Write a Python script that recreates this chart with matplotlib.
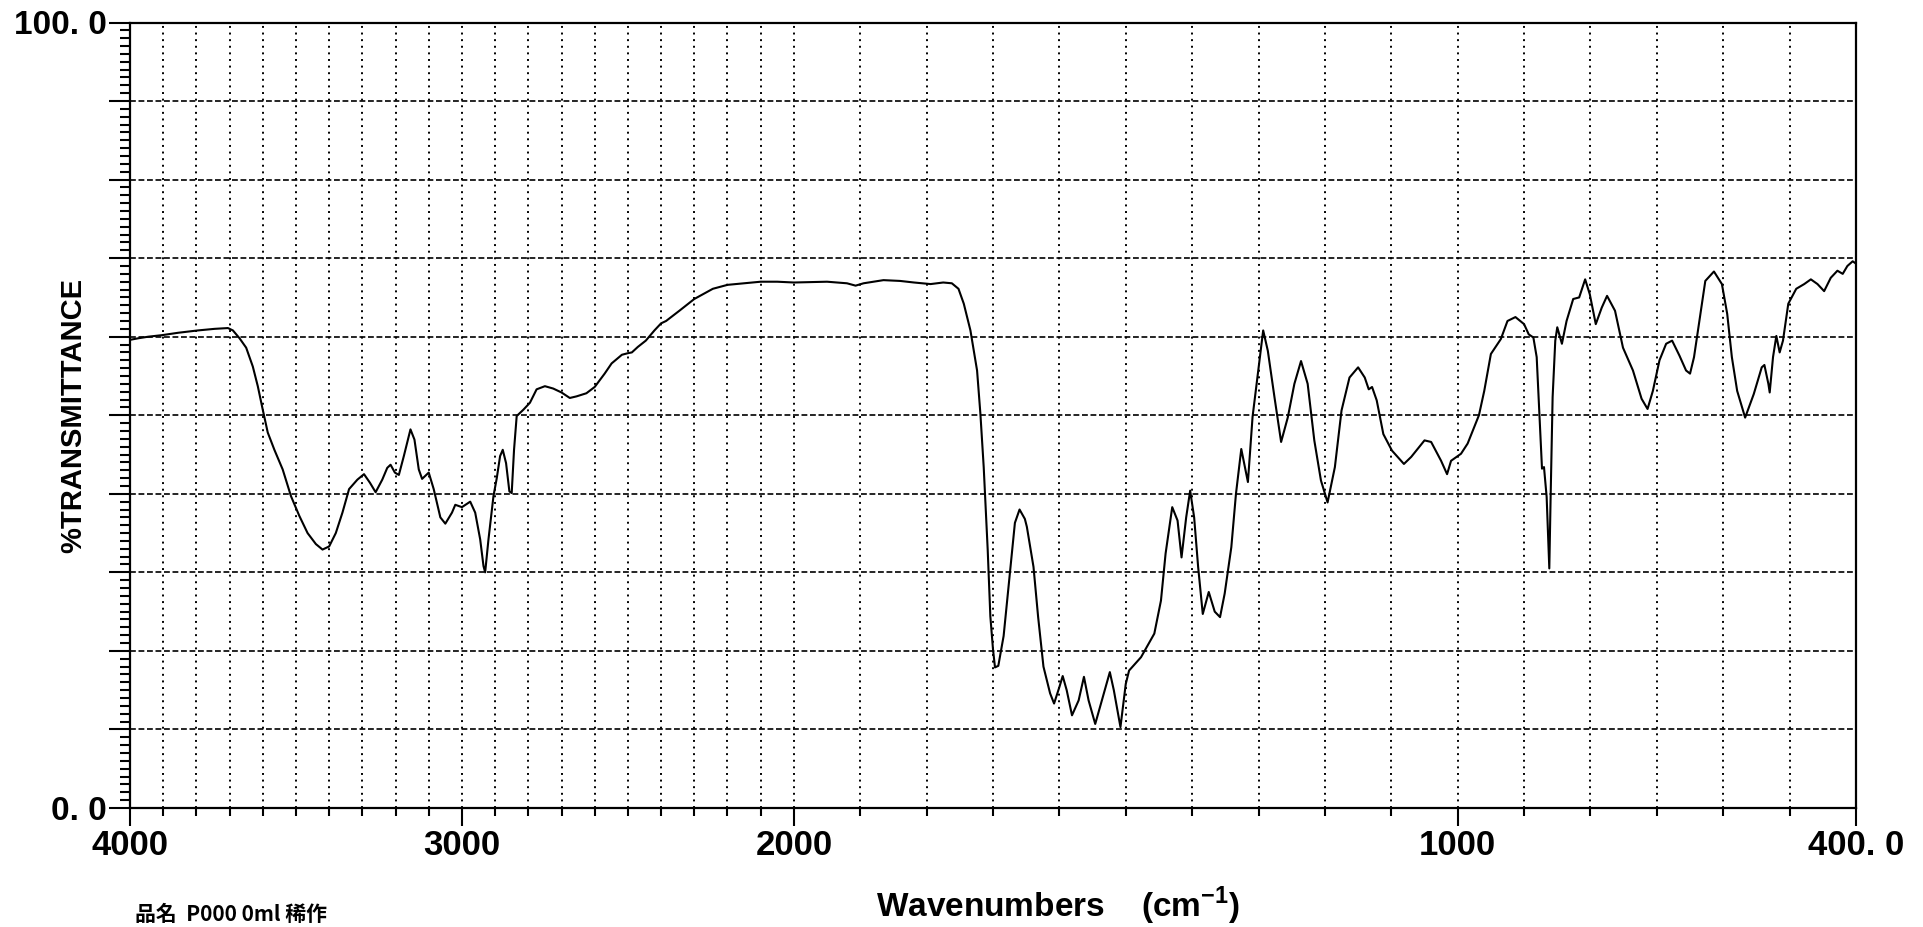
import numpy as np
import matplotlib
matplotlib.use("Agg")
import matplotlib.pyplot as plt
from matplotlib.ticker import FixedLocator, FixedFormatter, MultipleLocator, FuncFormatter

plt.rcParams["font.family"] = ["Liberation Sans Narrow", "Liberation Sans", "DejaVu Sans"]
plt.rcParams["font.weight"] = "bold"

# IR spectrum: wavenumber (cm-1) and %transmittance
wavenumber = [
    4000, 3975, 3945, 3903, 3855, 3795, 3745, 3705, 3690, 3670, 3650, 3630, 3615, 3600,
    3585, 3565, 3540, 3515, 3490, 3465, 3440, 3420, 3400, 3380, 3360, 3340, 3315, 3295,
    3277, 3260, 3240, 3225, 3215, 3202, 3190, 3175, 3155, 3143, 3130, 3120, 3100, 3085,
    3065, 3050, 3030, 3020, 3000, 2975, 2960, 2945, 2935, 2930, 2920, 2905, 2895, 2885,
    2877, 2867, 2857, 2850, 2843, 2835, 2815, 2795, 2775, 2750, 2725, 2700, 2675, 2655,
    2625, 2600, 2570, 2549, 2518, 2500, 2488, 2470, 2446, 2420, 2400, 2385, 2345, 2300,
    2244, 2200, 2150, 2100, 2050, 2000, 1950, 1920, 1907, 1895, 1865, 1840, 1819, 1794,
    1775, 1762, 1752, 1744, 1734, 1724, 1719, 1714, 1708, 1704, 1700, 1697, 1692, 1684,
    1674, 1667, 1660, 1652, 1649, 1639, 1632, 1624, 1614, 1608, 1600, 1595, 1589, 1581,
    1571, 1563, 1556, 1546, 1536, 1524, 1518, 1508, 1500, 1495, 1477, 1457, 1447, 1440,
    1430, 1422, 1416, 1409, 1403, 1397, 1391, 1384, 1375, 1366, 1358, 1351, 1341, 1334,
    1326, 1316, 1309, 1301, 1293, 1286, 1276, 1266, 1256, 1246, 1236, 1226, 1216, 1206,
    1196, 1185, 1175, 1163, 1150, 1140, 1134, 1129, 1122, 1112, 1099, 1081, 1070, 1050,
    1040, 1025, 1016, 1010, 995, 985, 975, 968, 960, 950, 935, 925, 913, 900,
    893, 886, 881, 877, 873, 870, 866, 862, 860, 857, 853, 850, 843, 836,
    826, 817, 808, 801, 792, 783, 775, 763, 751, 736, 723, 714, 706, 696,
    686, 677, 666, 656, 650, 644, 636, 627, 614, 602, 594, 587, 579, 567,
    554, 542, 538, 532, 530, 525, 520, 515, 510, 502, 490, 478, 468, 458,
    448, 438, 428, 420, 413, 405, 400,
]
transmittance = [
    59.6, 59.8, 60.0, 60.2, 60.5, 60.8, 61.0, 61.1, 60.8, 59.8, 58.6, 56.2, 53.7, 50.7,
    47.8, 45.6, 43.1, 39.7, 37.2, 35.0, 33.6, 32.9, 33.3, 35.0, 37.6, 40.6, 41.8, 42.5,
    41.4, 40.2, 41.8, 43.3, 43.7, 42.7, 42.4, 44.8, 48.2, 46.9, 43.1, 41.9, 42.7, 40.6,
    37.0, 36.2, 37.6, 38.6, 38.3, 39.0, 37.6, 34.2, 30.8, 30.0, 34.2, 39.7, 42.0, 44.8,
    45.6, 43.9, 40.3, 40.1, 45.6, 49.9, 50.7, 51.6, 53.3, 53.7, 53.4, 52.9, 52.2, 52.4,
    52.8, 53.6, 55.3, 56.6, 57.7, 57.9, 58.0, 58.7, 59.5, 60.8, 61.7, 62.0, 63.3, 64.8,
    66.1, 66.6, 66.8, 67.0, 67.0, 66.9, 67.0, 66.8, 66.5, 66.8, 67.2, 67.1, 66.9, 66.7,
    66.9, 66.8, 66.1, 64.2, 60.8, 55.7, 50.2, 43.4, 32.9, 24.4, 20.2, 17.9, 18.1, 21.9,
    30.3, 36.3, 38.0, 36.8, 35.8, 30.7, 24.3, 18.0, 14.6, 13.3, 15.4, 16.8, 15.0, 11.8,
    13.7, 16.7, 13.7, 10.7, 13.7, 17.3, 15.0, 10.3, 15.8, 17.5, 19.2, 22.2, 26.4, 32.4,
    38.3, 36.6, 31.9, 37.0, 40.4, 37.0, 30.7, 24.7, 27.5, 25.0, 24.3, 27.3, 33.2, 40.0,
    45.7, 41.5, 49.8, 55.3, 60.8, 58.2, 52.3, 46.6, 49.7, 54.0, 56.9, 54.0, 46.8, 41.7,
    38.9, 43.4, 50.6, 54.8, 56.1, 54.8, 53.3, 53.6, 51.9, 47.6, 45.5, 43.8, 44.7, 46.8,
    46.6, 44.2, 42.5, 44.2, 45.1, 46.4, 48.5, 50.0, 53.1, 57.8, 59.7, 62.0, 62.5, 61.6,
    60.3, 59.9, 57.4, 50.2, 43.2, 43.4, 39.6, 30.5, 39.6, 52.3, 59.5, 61.2, 59.1, 62.0,
    64.8, 65.0, 67.3, 65.4, 61.6, 63.7, 65.2, 63.3, 58.6, 55.7, 52.1, 50.8, 53.1, 57.0,
    59.1, 59.5, 57.6, 55.7, 55.3, 57.4, 62.0, 67.1, 68.3, 66.7, 62.9, 57.4, 53.1, 49.7,
    52.7, 56.1, 56.4, 54.0, 52.9, 57.4, 60.1, 58.0, 59.5, 64.2, 66.1, 66.7, 67.3, 66.7,
    65.8, 67.5, 68.4, 68.0, 69.0, 69.6, 69.3,
]

x_label_ticks = [4000, 3000, 2000, 1000, 400]
x_label_text = ["4000", "3000", "2000", "1000", "400. 0"]
x_minor_ticks = list(range(3900, 400, -100))
y_major_ticks = list(range(0, 101, 10))
y_label_text = {0: "0. 0", 100: "100. 0"}


# Two-range wavenumber axis: 4000-2000 at half the scale of 2000-400
def to_axis(w):
    w = np.asarray(w, dtype=float)
    return np.where(w >= 2000, 1.6 + (w - 2000) / 2000.0, (w - 400) / 1000.0)


def from_axis(u):
    u = np.asarray(u, dtype=float)
    return np.where(u >= 1.6, 2000 + (u - 1.6) * 2000.0, 400 + u * 1000.0)


W, H = 1923, 927
fig = plt.figure(figsize=(W / 100, H / 100), dpi=100)
ax = fig.add_axes([130 / W, 1 - 808 / H, 1726 / W, 785.5 / H])
ax.set_xscale("function", functions=(to_axis, from_axis))
ax.set_xlim(4000, 400)
ax.set_ylim(0, 100)

ax.plot(wavenumber, transmittance, color="black", lw=1.5,
        solid_joinstyle="round", solid_capstyle="round", zorder=3)

# x axis ticks and labels
ax.xaxis.set_major_locator(FixedLocator(x_label_ticks))
ax.xaxis.set_major_formatter(FixedFormatter(x_label_text))
ax.xaxis.set_minor_locator(FixedLocator(x_minor_ticks))
ax.tick_params(axis="x", which="major", direction="out", length=13, width=1.5,
               labelsize=25, pad=2, colors="black")
ax.tick_params(axis="x", which="minor", direction="out", length=6, width=1.5)

# y axis ticks and labels
ax.yaxis.set_major_locator(FixedLocator(y_major_ticks))
ax.yaxis.set_major_formatter(FuncFormatter(lambda v, p: y_label_text.get(int(round(v)), "")))
ax.yaxis.set_minor_locator(MultipleLocator(1))
ax.tick_params(axis="y", which="major", direction="out", length=15, width=1.5,
               labelsize=24, pad=2)
ax.tick_params(axis="y", which="minor", direction="out", length=7, width=1.5)

# chart-paper grid: dotted verticals every 100 cm-1, dashed horizontals every 10 %
ax.grid(which="minor", axis="x", color="black", lw=1.4, ls=(0, (1.0, 2.4)), zorder=1)
ax.grid(which="major", axis="x", color="black", lw=1.4, ls=(0, (1.0, 2.4)), zorder=1)
ax.grid(which="major", axis="y", color="black", lw=1.2, ls=(0, (3.5, 1.6)), zorder=1)
ax.set_axisbelow(True)

for s in ax.spines.values():
    s.set_linewidth(1.6)
    s.set_color("black")

fig.text(73 / W, 1 - 415 / H, "%TRANSMITTANCE", rotation=90, fontsize=21,
         ha="center", va="center", weight="bold")
fig.text(1058 / W, 1 - 906 / H, "Wavenumbers    (cm$^{\\mathregular{-1}}$)",
         fontsize=24, ha="center", va="center", weight="bold")
fig.text(135 / W, 2 / H, "品名  P000 0ml 稀作", fontsize=15, ha="left", va="bottom",
         family=["Noto Sans CJK JP", "DejaVu Sans"], weight="bold")

fig.savefig("out.png", dpi=100, facecolor="white")
